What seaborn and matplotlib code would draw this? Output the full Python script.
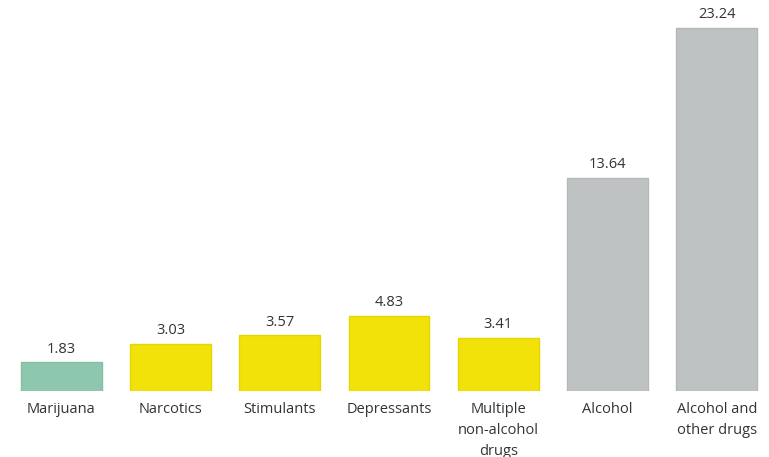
import matplotlib
matplotlib.use("Agg")
import matplotlib.pyplot as plt
import seaborn as sns
import pandas as pd

categories = ["Marijuana", "Narcotics", "Stimulants", "Depressants",
              "Multiple\nnon-alcohol\ndrugs", "Alcohol", "Alcohol and\nother drugs"]
values = [1.83, 3.03, 3.57, 4.83, 3.41, 13.64, 23.24]
groups = ["marijuana", "drugs", "drugs", "drugs", "drugs", "alcohol", "alcohol"]
group_colors = {"marijuana": "#8DC8AE", "drugs": "#F2E20A", "alcohol": "#BFC2C2"}
edge_colors = {"marijuana": "#84BFA5", "drugs": "#E6D500", "alcohol": "#B5B8B8"}

sns.set_style("white")
plt.rcParams['font.family'] = ['Open Sans', 'DejaVu Sans']

df = pd.DataFrame({"category": categories, "value": values, "group": groups})

fig = plt.figure(figsize=(7.69, 4.57), dpi=100)
ax = fig.add_axes([0, 66/457, 1, 391/457])

sns.barplot(data=df, x="category", y="value", hue="group", palette=group_colors,
            dodge=False, width=0.74, legend=False, ax=ax, saturation=1)

for patch, g in zip([p for p in ax.patches if p.get_height() > 0], []):
    pass
# set edges by matching facecolor
import matplotlib.colors as mcolors
for patch in ax.patches:
    fc = mcolors.to_hex(patch.get_facecolor())
    for g, c in group_colors.items():
        if fc.lower() == c.lower():
            patch.set_edgecolor(edge_colors[g])
            patch.set_linewidth(1.0)

for cont in ax.containers:
    ax.bar_label(cont, fmt="%.2f", padding=4, fontsize=10.5, color="#333333")

ax.set_xlim(-0.563, 6.479)
ax.set_ylim(0, 25.03)
ax.set_xlabel("")
ax.set_ylabel("")
ax.set_yticks([])
ax.tick_params(axis="x", length=0, pad=8, labelsize=10.5, labelcolor="#333333")
for lbl in ax.get_xticklabels():
    lbl.set_linespacing(1.55)
for s in ax.spines.values():
    s.set_visible(False)

fig.savefig("out.png", dpi=100)
